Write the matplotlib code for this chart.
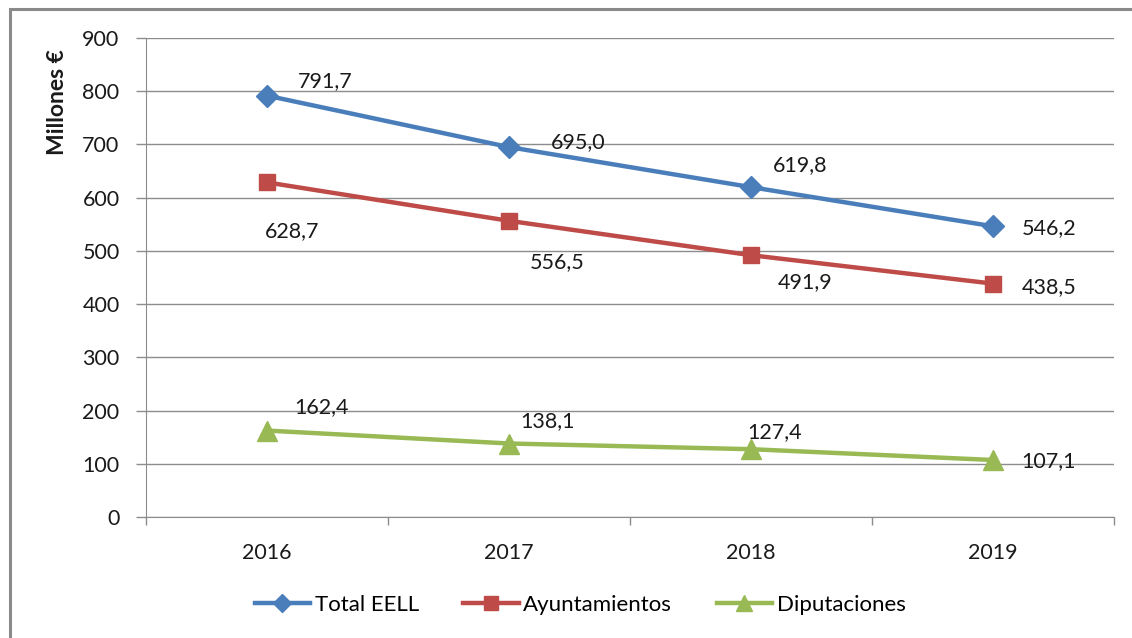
import matplotlib
matplotlib.use("Agg")
import matplotlib.pyplot as plt
from matplotlib.patches import Rectangle
from matplotlib.lines import Line2D

years = ["2016", "2017", "2018", "2019"]
total_eell = [791.7, 695.0, 619.8, 546.2]
ayuntamientos = [628.7, 556.5, 491.9, 438.5]
diputaciones = [162.4, 138.1, 127.4, 107.1]
series_names = ["Total EELL", "Ayuntamientos", "Diputaciones"]
y_ticks = [0, 100, 200, 300, 400, 500, 600, 700, 800, 900]

plt.rcParams['font.family'] = ['Lato', 'DejaVu Sans']

W, H = 1132, 638
fig = plt.figure(figsize=(W / 100, H / 100), dpi=100)
ax = fig.add_axes([146 / W, 1 - 517 / H, (1114 - 146) / W, (517 - 38) / H])

x = [0.5, 1.5, 2.5, 3.5]
colors = ["#4A7EBB", "#BE4B48", "#98B954"]
markers = ["D", "s", "^"]
msizes = [11, 12, 14]
data = [total_eell, ayuntamientos, diputaciones]
offsets = [
    [(58, 15), (69, 5), (49, 22), (56, -2)],
    [(25, -49), (48, -41), (54, -27), (56, -3)],
    [(55, 23), (39, 22), (24, 17), (56, -1)],
]
FS = 15.5

for vals, c, m, ms, name, offs in zip(data, colors, markers, msizes, series_names, offsets):
    ax.plot(x, vals, color=c, lw=3.2, marker=m, ms=ms, label=name, zorder=3,
            solid_capstyle='round')
    for xi, v, (dx, dy) in zip(x, vals, offs):
        ax.annotate(f"{v:.1f}".replace(".", ","), (xi, v), xytext=(dx, dy),
                    textcoords='offset pixels', ha='center', va='center',
                    fontsize=FS, color='#1a1a1a', zorder=4)

ax.set_xlim(0, 4)
ax.set_ylim(0, 900)
ax.set_yticks(y_ticks)
ax.set_yticklabels([str(t) for t in y_ticks], fontsize=FS, color='#1a1a1a')
ax.grid(axis='y', color='#8c8c8c', lw=1)
ax.set_axisbelow(True)
ax.set_xticks([0, 1, 2, 3, 4])
ax.set_xticklabels([])
ax.set_xticks(x, minor=True)
ax.set_xticklabels(years, minor=True, fontsize=FS, color='#1a1a1a')
ax.tick_params(axis='x', which='minor', length=0, pad=19)
ax.tick_params(axis='x', which='major', length=6, color='#8c8c8c', width=1)
ax.tick_params(axis='y', length=7, color='#8c8c8c', width=1, pad=12)
for s in ['top', 'right']:
    ax.spines[s].set_visible(False)
ax.spines['left'].set_color('#8c8c8c')
ax.spines['bottom'].set_color('#8c8c8c')

fig.text(58 / W, 1 - 102 / H, "Millones €", rotation=90, ha='center', va='center',
         fontsize=16.5, fontweight='bold', color='#1a1a1a')

handles = [Line2D([], [], color=c, lw=3.2, marker=m, ms=ms * 0.85)
           for c, m, ms in zip(colors, markers, msizes)]
fig.legend(handles, series_names, loc='center', bbox_to_anchor=(580 / W, 1 - 605 / H),
           ncol=3, frameon=False, fontsize=16, handlelength=2.5, handletextpad=0.2,
           columnspacing=2.0)

fig.patches.append(Rectangle((10 / W, -0.1), 1.2, 1 - 9 / H + 0.1, transform=fig.transFigure,
                             fill=False, edgecolor='#8a8a8a', lw=2.2))

fig.savefig("out.png", dpi=100, facecolor='white')
